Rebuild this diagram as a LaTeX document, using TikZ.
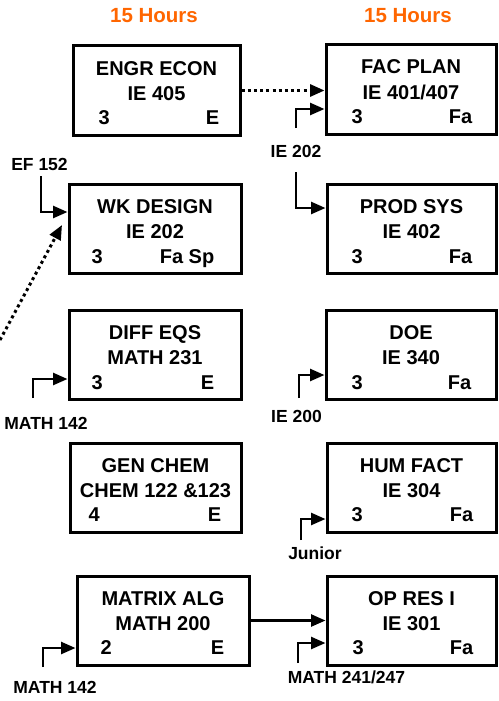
\documentclass[tikz,border=0pt]{standalone}
\usepackage{fontspec}
\setmainfont{Liberation Sans}
\usetikzlibrary{arrows.meta}
\definecolor{hdrorange}{RGB}{255,102,0}
\tikzset{
  crs/.style={draw=black, line width=3pt, minimum width=#1, minimum height=89pt, inner sep=0pt},
  crs/.default=170pt,
  ttl/.style={font=\fontsize{20}{24}\selectfont\bfseries, inner sep=0pt, anchor=base},
  lbl/.style={font=\fontsize{17.5}{20}\selectfont\bfseries, inner sep=0pt, anchor=base},
  hdr/.style={font=\fontsize{20.5}{24}\selectfont\bfseries, text=hdrorange, inner sep=0pt, anchor=base},
  conn/.style={line width=2.5pt, -{Triangle[length=14.5pt,width=12pt]}},
  dotconn/.style={line width=3pt, dash pattern=on 3pt off 3.2pt, -{Triangle[length=14.5pt,width=12pt]}}
}
\begin{document}
\begin{tikzpicture}[x=1pt,y=-1pt]
\useasboundingbox (0,0) rectangle (498,701);
% headers
\node[hdr] (h1) at (154,23) {15 Hours};
\node[hdr] (h2) at (408,23) {15 Hours};
% boxes
\node[crs=167pt] (engr) at (156.5,90.5) {};
\node[crs=170pt] (fac) at (411,89.5) {};
\node[crs=172pt] (wk) at (155,229) {};
\node[crs=169pt] (prod) at (411.5,229) {};
\node[crs=172pt] (diff) at (155,355) {};
\node[crs=170pt] (doe) at (411,355) {};
\node[crs=171pt] (chem) at (155.5,487.5) {};
\node[crs=169pt] (hum) at (411.5,487.5) {};
\node[crs=172pt] (mat) at (163,620.5) {};
\node[crs=169pt] (opr) at (411.5,620.5) {};
% box texts
\foreach \b/\ta/\tb/\l/\r/\lo/\ro in {
  engr/ENGR ECON/IE 405/3/E/27/22,
  fac/FAC PLAN/IE 401\slash 407/3/Fa/27/25,
  wk/WK DESIGN/IE 202/3/Fa Sp/24/28,
  prod/PROD SYS/IE 402/3/Fa/26/25,
  diff/DIFF EQS/MATH 231/3/E/24/28,
  doe/DOE/IE 340/3/Fa/27/26,
  chem/GEN CHEM/CHEM 122 \&123/4/E/20/21,
  hum/HUM FACT/IE 304/3/Fa/26/24,
  mat/MATRIX ALG/MATH 200/2/E/25/26,
  opr/OP RES I/IE 301/3/Fa/27/24}{
  \node[ttl] (\b-a) at ([yshift=-30.5pt]\b.north) {\ta};
  \node[ttl] (\b-b) at ([yshift=-55.5pt]\b.north) {\tb};
  \node[ttl, anchor=base west] (\b-c) at ([xshift=\lo pt,yshift=-80pt]\b.north west) {\l};
  \node[ttl, anchor=base east] (\b-d) at ([xshift=-\ro pt,yshift=-80pt]\b.north east) {\r};
}
% prerequisite labels
\node[lbl] (ef152) at (39.5,170) {EF 152};
\node[lbl] (m142a) at (46,429) {MATH 142};
\node[lbl] (ie202) at (296,157) {IE 202};
\node[lbl] (ie200) at (296.5,422) {IE 200};
\node[lbl] (jun) at (315,559) {Junior};
\node[lbl] (m241) at (346.5,683) {MATH 241/247};
\node[lbl] (m142b) at (55,693) {MATH 142};
% free ends
\coordinate (s-ef) at (41,176);
\coordinate (s-dot) at (0,340);
\coordinate (e-dot) at (62,225);
\coordinate (s-m142a) at (33,398);
\coordinate (s-ie202a) at (296,128);
\coordinate (s-ie202b) at (296,172);
\coordinate (s-ie200) at (299,398);
\coordinate (s-jun) at (301,540);
\coordinate (s-m241) at (298,663);
\coordinate (s-m142b) at (43,667);
% connectors
\draw[conn] (s-ef) |- ([yshift=17pt]wk.west);
\draw[dotconn] (s-dot) -- (e-dot);
\draw[conn] (s-m142a) |- ([yshift=-24pt]diff.west);
\draw[dotconn] (engr.east) -- (engr.east -| fac.west);
\draw[conn] (s-ie202a) |- ([yshift=-19.5pt]fac.west);
\draw[conn] (s-ie202b) |- ([yshift=21pt]prod.west);
\draw[conn] (s-ie200) |- ([yshift=-20pt]doe.west);
\draw[conn] (s-jun) |- ([yshift=-31.5pt]hum.west);
\draw[conn] (mat.east) -- (mat.east -| opr.west);
\draw[conn] (s-m241) |- ([yshift=-22.5pt]opr.west);
\draw[conn] (s-m142b) |- ([yshift=-27.5pt]mat.west);
\end{tikzpicture}
\end{document}
